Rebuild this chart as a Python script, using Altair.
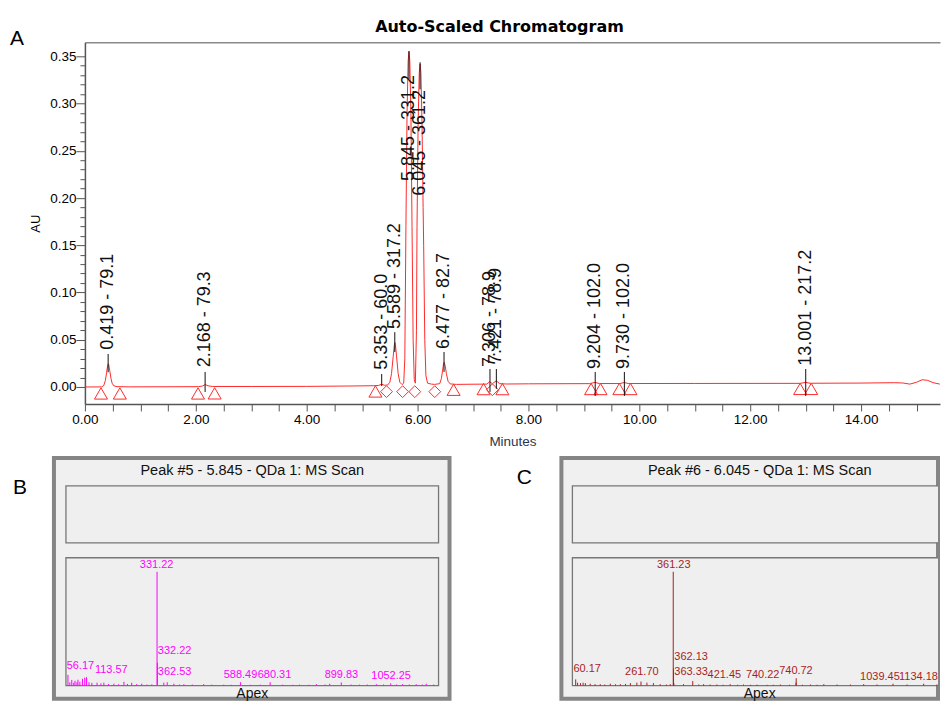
import altair as alt
import pandas as pd

FONT = "Liberation Sans"
RED = "#ff2a2a"

# ---------------- Panel A : chromatogram (minutes, AU) ----------------
chrom_points = [
    (0.00, 0.0000), (0.20, 0.0000), (0.30, 0.0001), (0.34, 0.0015), (0.37, 0.0070),
    (0.39, 0.0150), (0.41, 0.0225), (0.42, 0.0245), (0.43, 0.0235), (0.45, 0.0165),
    (0.47, 0.0090), (0.49, 0.0040), (0.52, 0.0012), (0.58, 0.0003), (0.80, 0.0001),
    (1.50, 0.0002), (2.05, 0.0003), (2.12, 0.0010), (2.17, 0.0025), (2.22, 0.0012),
    (2.30, 0.0005), (3.00, 0.0005), (4.00, 0.0006), (4.80, 0.0010), (5.20, 0.0013),
    (5.30, 0.0016), (5.35, 0.0030), (5.40, 0.0018), (5.46, 0.0020), (5.50, 0.0050),
    (5.53, 0.0140), (5.56, 0.0320), (5.58, 0.0440), (5.59, 0.0470), (5.60, 0.0450),
    (5.62, 0.0330), (5.65, 0.0140), (5.68, 0.0050), (5.72, 0.0025), (5.75, 0.0040),
    (5.77, 0.0300), (5.79, 0.1700), (5.81, 0.2900), (5.83, 0.3450), (5.845, 0.3550),
    (5.86, 0.3450), (5.88, 0.2900), (5.90, 0.1700), (5.92, 0.0500), (5.94, 0.0080),
    (5.96, 0.0040), (5.98, 0.0600), (5.99, 0.1700), (6.01, 0.2800), (6.03, 0.3320),
    (6.045, 0.3420), (6.06, 0.3330), (6.08, 0.2800), (6.10, 0.1900), (6.11, 0.1500),
    (6.13, 0.0500), (6.15, 0.0120), (6.18, 0.0040), (6.25, 0.0030), (6.31, 0.0027),
    (6.40, 0.0035), (6.43, 0.0090), (6.45, 0.0170), (6.47, 0.0250), (6.48, 0.0260),
    (6.50, 0.0220), (6.52, 0.0140), (6.55, 0.0060), (6.59, 0.0032), (6.70, 0.0027),
    (7.00, 0.0029), (7.25, 0.0030), (7.30, 0.0055), (7.35, 0.0035), (7.42, 0.0065),
    (7.48, 0.0035), (7.60, 0.0031), (8.00, 0.0033), (9.10, 0.0035), (9.20, 0.0048),
    (9.28, 0.0036), (9.65, 0.0036), (9.73, 0.0047), (9.80, 0.0036), (11.00, 0.0037),
    (12.90, 0.0038), (13.00, 0.0048), (13.08, 0.0039), (14.00, 0.0041), (14.60, 0.0045),
    (14.75, 0.0042), (14.88, 0.0030), (15.00, 0.0050), (15.10, 0.0076), (15.20, 0.0070),
    (15.30, 0.0045), (15.42, 0.0030),
]
minutes = [p[0] for p in chrom_points]
absorbance = [p[1] for p in chrom_points]

peak_rt = [0.419, 2.168, 5.353, 5.589, 5.845, 6.045, 6.477, 7.306, 7.421, 9.204, 9.730, 13.001]
peak_label = ["0.419 - 79.1", "2.168 - 79.3", "5.353 - 60.0", "5.589 - 317.2", "5.845 - 331.2",
              "6.045 - 361.2", "6.477 - 82.7", "7.306 - 78.9", "7.421 - 78.9", "9.204 - 102.0",
              "9.730 - 102.0", "13.001 - 217.2"]
label_au = [0.0394, 0.0208, 0.0183, 0.0613, 0.2180, 0.2023, 0.0402, 0.0211, 0.0243, 0.0190, 0.0190, 0.0225]
leader_lo = [0.0155, -0.0053, 0.0010, 0.0370, 0.3257, 0.3150, 0.0159, -0.0053, -0.0020, -0.0095, -0.0095, -0.0095]
leader_hi = [0.0349, 0.0159, 0.0137, 0.0580, 0.3556, 0.3437, 0.0370, 0.0190, 0.0190, 0.0159, 0.0159, 0.0190]

tri_rt = [0.29, 0.63, 2.04, 2.34, 5.24, 6.65, 7.19, 7.53, 9.13, 9.30, 9.64, 9.84, 12.90, 13.10]
tri_au = [-0.0069, -0.0069, -0.0069, -0.0068, -0.0048, -0.0030, -0.0023, -0.0023,
          -0.0022, -0.0022, -0.0022, -0.0022, -0.0021, -0.0021]
dia_rt = [5.44, 5.73, 5.95, 6.31, 7.35]
dia_au = [-0.0050, -0.0050, -0.0050, -0.0050, -0.0030]

x_tick_values = [0.0, 0.5, 1.0, 1.5, 2.0, 2.5, 3.0, 3.5, 4.0, 4.5, 5.0, 5.5, 6.0, 6.5, 7.0, 7.5,
                 8.0, 8.5, 9.0, 9.5, 10.0, 10.5, 11.0, 11.5, 12.0, 12.5, 13.0, 13.5, 14.0, 14.5, 15.0]
y_tick_values = [0.00, 0.01, 0.02, 0.03, 0.04, 0.05, 0.06, 0.07, 0.08, 0.09, 0.10, 0.11, 0.12,
                 0.13, 0.14, 0.15, 0.16, 0.17, 0.18, 0.19, 0.20, 0.21, 0.22, 0.23, 0.24, 0.25,
                 0.26, 0.27, 0.28, 0.29, 0.30, 0.31, 0.32, 0.33, 0.34, 0.35]

# ---------------- Panels B and C : MS spectra (m/z, relative intensity) ----------------
spec5 = [(56.17, 9.5), (62, 3), (68, 5), (74, 2.5), (78, 4.3), (84, 3), (87, 5.2), (93, 3.4),
         (101, 6), (108, 7), (113.57, 7.5), (121, 3), (130, 2.5), (146, 2.6), (158, 2),
         (167, 2.6), (181, 1.5), (198, 1.7), (212, 1.2), (229, 3.4), (240, 1.5), (253, 2.6),
         (268, 1.3), (284, 1.7), (300, 1), (315, 1.2), (331.22, 100), (332.22, 20), (352, 2.6),
         (362.53, 3), (383, 1.7), (400, 1), (414, 1.3), (440, 1), (475, 1.3), (500, 0.9),
         (537, 0.9), (560, 0.8), (588.49, 3), (620, 0.8), (650, 0.9), (680.31, 3), (719, 0.9),
         (750, 0.8), (771, 0.9), (800, 0.8), (823, 1.3), (850, 1), (864, 1.7), (899.83, 2.8),
         (930, 1), (956, 0.9), (980, 1), (1008, 1.3), (1030, 1), (1052.25, 2), (1070, 1),
         (1089, 1.3), (1110, 1), (1131, 1.3), (1150, 1), (1162, 1.7), (1185, 1)]
spec5_mz = [p[0] for p in spec5]
spec5_int = [p[1] for p in spec5]
lab5_text = ["331.22", "332.22", "362.53", "56.17", "113.57", "588.49", "680.31", "899.83", "1052.25"]
lab5_mz = [278.1, 333.6, 333.6, 52.2, 139.4, 537.1, 641.9, 848.5, 992.5]
lab5_int = [106, 30.8, 11.8, 17, 13.5, 9.2, 9.2, 9.2, 8.4]

spec6 = [(60.17, 5.5), (66, 2.6), (75, 2.2), (83, 2.6), (90, 2.2), (105, 1.7), (120, 1.3),
         (136, 1.3), (150, 1), (167, 1.7), (183, 1.2), (198, 1.3), (214, 1.5), (229, 2.2),
         (249, 2.6), (261.70, 3.6), (280, 2.6), (300, 2.2), (321, 1.3), (340, 1), (352, 1.3),
         (361.23, 100), (362.13, 15), (363.33, 2), (393, 1.3), (421.45, 4), (440, 1), (455, 1.3),
         (475, 1), (496, 1), (515, 0.8), (537, 1.3), (560, 0.8), (578, 1), (600, 0.8), (620, 0.9),
         (651, 0.7), (670, 0.8), (692, 1), (720, 0.8), (740.22, 2.6), (740.72, 6.5), (760, 0.8),
         (785, 1), (805, 0.8), (826, 1.3), (867, 1), (908, 1), (949, 1.3), (990, 1),
         (1039.45, 1.7), (1083, 1), (1134.18, 1.7), (1175, 1)]
spec6_mz = [p[0] for p in spec6]
spec6_int = [p[1] for p in spec6]
lab6_text = ["361.23", "362.13", "363.33", "60.17", "261.70", "421.45", "740.22", "740.72",
             "1039.45", "1134.18"]
lab6_mz = [311.1, 364.5, 364.5, 53.1, 212.5, 467.1, 585.5, 688.2, 938.0, 1058.0]
lab6_int = [106, 25, 11.8, 14.7, 11.8, 9.2, 9.2, 12.7, 7.8, 7.8]

# ---------------- Panel A chart ----------------
xs = alt.Scale(domain=[0, 15.423], nice=False, zero=False)
ys = alt.Scale(domain=[-0.018, 0.3648], nice=False, zero=False)

x_axis = alt.Axis(
    orient="bottom", values=x_tick_values,
    labelExpr="datum.value % 2 == 0 ? format(datum.value, '.2f') : ''",
    labelFlush=False, labelOverlap=False, labelFont=FONT, labelFontSize=13.5,
    labelColor="#000", labelPadding=2, tickSize=7, tickColor="#555", tickWidth=1,
    domainColor="#555", domainWidth=1.5, grid=False,
    title="Minutes", titleFont=FONT, titleFontSize=13.5, titleFontWeight="normal",
    titleColor="#2b3548", titlePadding=8)
y_axis = alt.Axis(
    orient="left", values=y_tick_values,
    labelExpr="round(datum.value * 100) % 5 == 0 ? format(datum.value, '.2f') : ''",
    labelFlush=False, labelOverlap=False, labelFont=FONT, labelFontSize=13.5,
    labelColor="#000", labelPadding=0,
    tickSize={"condition": {"test": "round(datum.value * 100) % 5 == 0", "value": 9}, "value": 5},
    tickColor="#555", tickWidth=1, domainColor="#555", domainWidth=1.5, grid=False,
    title="AU", titleFont=FONT, titleFontSize=13, titleFontWeight="normal", titleColor="#000",
    titleAngle=270, titleX=-49, titleY=181, titleAlign="center", titleBaseline="middle")
top_axis = alt.Axis(orient="top", labels=False, ticks=False, title="", grid=False,
                    domainColor="#8a8a8a", domainWidth=1.5)

chrom_df = pd.DataFrame({"t": minutes, "au": absorbance})
tri_df = pd.DataFrame({"t": tri_rt, "au": tri_au})
dia_df = pd.DataFrame({"t": dia_rt, "au": dia_au})
peak_df = pd.DataFrame({"t": peak_rt, "au": label_au, "lo": leader_lo, "hi": leader_hi,
                        "label": peak_label})

trace = alt.Chart(chrom_df).mark_line(color=RED, strokeWidth=1).encode(
    x=alt.X("t:Q", scale=xs, axis=x_axis),
    y=alt.Y("au:Q", scale=ys, axis=y_axis))
tris = alt.Chart(tri_df).mark_point(shape="triangle-up", filled=False, color=RED, size=170,
                                    strokeWidth=1, opacity=1).encode(
    x=alt.X("t:Q", scale=xs, axis=top_axis),
    y=alt.Y("au:Q", scale=ys, axis=None))
dias = alt.Chart(dia_df).mark_point(shape="diamond", filled=False, color=RED, size=140,
                                    strokeWidth=1, opacity=1).encode(
    x=alt.X("t:Q", scale=xs, axis=None),
    y=alt.Y("au:Q", scale=ys, axis=None))
leaders = alt.Chart(peak_df).mark_rule(color="#111", strokeWidth=1).encode(
    x=alt.X("t:Q", scale=xs, axis=None),
    y=alt.Y("lo:Q", scale=ys, axis=None), y2="hi:Q")
texts = alt.Chart(peak_df).mark_text(angle=270, align="left", baseline="middle", font=FONT,
                                     fontSize=18, color="#111").encode(
    x=alt.X("t:Q", scale=xs, axis=None),
    y=alt.Y("au:Q", scale=ys, axis=None), text="label:N")

chart_a = alt.layer(trace, tris, dias, leaders, texts).resolve_axis(
    x="independent", y="independent").properties(
    width=856, height=362,
    view=alt.ViewBackground(stroke="transparent", strokeWidth=0),
    title=alt.TitleParams("Auto-Scaled Chromatogram", font="DejaVu Sans", fontSize=16,
                          fontWeight="bold", color="#000", anchor="middle", dx=-13, offset=7))


# ---------------- Panels B / C ----------------
def spectrum_panel(mz, inten, lab_text, lab_mz, lab_int, color, title, width, xdom, title_x):
    xsc = alt.Scale(domain=xdom, nice=False, zero=False)
    ysc = alt.Scale(domain=[-11.4, 200], nice=False, zero=False)
    title_axis = alt.Axis(orient="top", title=title, labels=False, ticks=False, domain=False,
                          grid=False, titleFont=FONT, titleFontSize=14.5, titleFontWeight="normal",
                          titleColor="#111", titleX=title_x, titleY=13, titleBaseline="middle",
                          titleAlign="center")
    apex_axis = alt.Axis(orient="bottom", title="Apex", labels=False, ticks=False, domain=False,
                         grid=False, titleFont=FONT, titleFontSize=14, titleFontWeight="normal",
                         titleColor="#111", titleX=198, titleY=-5, titleBaseline="middle",
                         titleAlign="center")
    one = pd.DataFrame({"box": [1]})
    upper = alt.Chart(one).mark_rect(fill="#efefef", stroke="#777", strokeWidth=1.3, clip=True).encode(
        x=alt.XDatum(50, scale=xsc, axis=title_axis), x2=alt.X2Datum(1200),
        y=alt.YDatum(125.4, scale=ysc, axis=None), y2=alt.Y2Datum(175.4))
    lower = alt.Chart(one).mark_rect(fill="#efefef", stroke="#777", strokeWidth=1.3, clip=True).encode(
        x=alt.XDatum(50, scale=xsc, axis=apex_axis), x2=alt.X2Datum(1200),
        y=alt.YDatum(0, scale=ysc, axis=None), y2=alt.Y2Datum(112.3))
    bars = alt.Chart(pd.DataFrame({"mz": mz, "i": inten})).mark_rule(color=color, strokeWidth=1).encode(
        x=alt.X("mz:Q", scale=xsc, axis=None),
        y=alt.Y("i:Q", scale=ysc, axis=None), y2=alt.Y2Datum(0))
    labs = alt.Chart(pd.DataFrame({"lx": lab_mz, "ly": lab_int, "lt": lab_text})).mark_text(
        align="left", baseline="middle", font=FONT, fontSize=11, color=color, clip=True).encode(
        x=alt.X("lx:Q", scale=xsc, axis=None),
        y=alt.Y("ly:Q", scale=ysc, axis=None), text="lt:N")
    return alt.layer(upper, lower, bars, labs).resolve_axis(x="independent").properties(
        width=width, height=241,
        view=alt.ViewBackground(fill="#f0f0f0", stroke="#858585", strokeWidth=4))


chart_b = spectrum_panel(spec5_mz, spec5_int, lab5_text, lab5_mz, lab5_int, "#ff00ff",
                         "Peak #5 - 5.845 - QDa 1: MS Scan", 396, [13.0, 1233.9], 198)
chart_c = spectrum_panel(spec6_mz, spec6_int, lab6_text, lab6_mz, lab6_int, "#a81e1e",
                         "Peak #6 - 6.045 - QDa 1: MS Scan", 377, [16.09, 1178.4], 198)


def letter(ch, w, h, dx, dy):
    return alt.Chart(pd.DataFrame({"letter": [ch]})).mark_text(
        font=FONT, fontSize=21, color="#000", align="center", baseline="middle", dx=dx, dy=dy
    ).encode(text="letter:N").properties(
        width=w, height=h, view=alt.ViewBackground(stroke="transparent", strokeWidth=0))


row1 = alt.hconcat(letter("A", 22, 2, -2, -4), chart_a, spacing=0)
row2 = alt.hconcat(letter("B", 44, 60, -10, 0), chart_b, letter("C", 108, 40, 19, 0), chart_c,
                   spacing=0)

chart = alt.vconcat(row1, row2, spacing=8).properties(
    padding={"left": 0, "top": 11, "right": 0, "bottom": 0}
).configure_view(stroke="transparent", strokeWidth=0).configure(background="white")

chart.save("out.html", embed_options={"renderer": "svg", "actions": False})
